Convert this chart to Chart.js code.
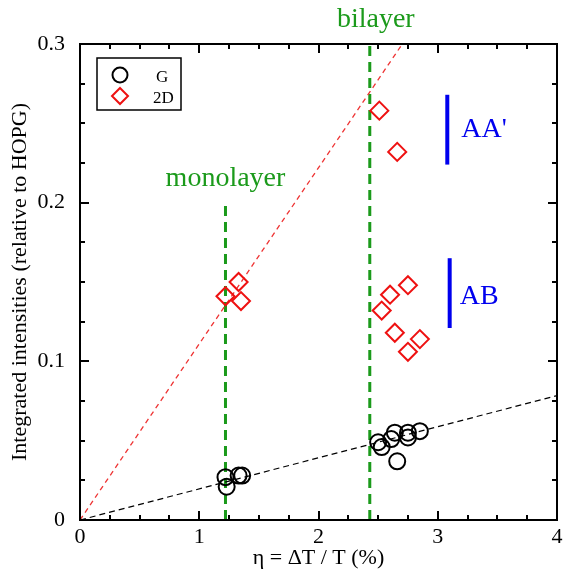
<!DOCTYPE html>
<html>
<head>
<meta charset="utf-8">
<script src="https://cdn.jsdelivr.net/npm/chart.js@4"></script>
<style>
html,body{margin:0;padding:0;background:#fff;}
#wrap{width:570px;height:574px;}
</style>
</head>
<body>
<div id="wrap"><canvas id="c" width="570" height="574"></canvas></div>
<script>
// ---- data ----
const gX = [1.22, 1.23, 1.33, 1.36, 2.50, 2.53, 2.61, 2.64, 2.66, 2.75, 2.75, 2.85];
const gY = [0.027, 0.021, 0.028, 0.028, 0.049, 0.046, 0.051, 0.055, 0.037, 0.055, 0.052, 0.056];
const dX = [1.22, 1.33, 1.35, 2.51, 2.66, 2.75, 2.60, 2.53, 2.64, 2.85, 2.75];
const dY = [0.141, 0.150, 0.138, 0.258, 0.232, 0.148, 0.142, 0.132, 0.118, 0.114, 0.106];
const redFitX = [0, 4];
const redFitY = [0, 0.444];
const blackFitX = [0, 4];
const blackFitY = [0, 0.0784];
const monoX = [1.22, 1.22];
const monoY = [0, 0.2];
const biX = [2.43, 2.43];
const biY = [0, 0.3];
const aaX = [3.08, 3.08];
const aaY = [0.224, 0.268];
const abX = [3.10, 3.10];
const abY = [0.121, 0.165];
const xTicks = [0, 1, 2, 3, 4];
const yTicks = [0, 0.1, 0.2, 0.3];
const xLabel = 'η = ΔT / T (%)';
const yLabel = 'Integrated intensities (relative to HOPG)';
const seriesNames = ['G', '2D'];

const pts = (xs, ys) => xs.map((x, i) => ({x: x, y: ys[i]}));
const GREEN = '#1b9a1b';
const SERIF = '"Liberation Serif", "Times New Roman", serif';

const annot = {
  id: 'annot',
  afterDatasetsDraw(chart) {
    const {ctx, chartArea: a, scales: {x, y}} = chart;
    ctx.save();
    // frame
    ctx.strokeStyle = '#000';
    ctx.lineWidth = 2;
    ctx.strokeRect(a.left, a.top, a.right - a.left, a.bottom - a.top);
    // inward ticks
    ctx.lineWidth = 2;
    ctx.beginPath();
    for (let i = 0; i <= 16; i++) {
      const v = i * 0.25;
      const px = Math.round(x.getPixelForValue(v));
      const len = (i % 4 === 0) ? 9 : 5;
      ctx.moveTo(px, a.bottom); ctx.lineTo(px, a.bottom - len);
      ctx.moveTo(px, a.top); ctx.lineTo(px, a.top + len);
    }
    for (let i = 0; i <= 12; i++) {
      const v = i * 0.025;
      const py = Math.round(y.getPixelForValue(v));
      const len = (i % 4 === 0) ? 9 : 5;
      ctx.moveTo(a.left, py); ctx.lineTo(a.left + len, py);
      ctx.moveTo(a.right, py); ctx.lineTo(a.right - len, py);
    }
    ctx.stroke();
    // text labels
    ctx.textAlign = 'center';
    ctx.textBaseline = 'alphabetic';
    ctx.fillStyle = GREEN;
    ctx.font = '28px ' + SERIF;
    ctx.fillText('monolayer', x.getPixelForValue(1.22), y.getPixelForValue(0.2105));
    ctx.fillText('bilayer', x.getPixelForValue(2.43) + 6, 27);
    ctx.fillStyle = '#0000ee';
    ctx.textAlign = 'left';
    ctx.fillText("AA'", x.getPixelForValue(3.08) + 14, y.getPixelForValue(0.2415));
    ctx.fillText('AB', x.getPixelForValue(3.10) + 10, y.getPixelForValue(0.136));
    // legend
    ctx.strokeStyle = '#000';
    ctx.lineWidth = 1.5;
    ctx.strokeRect(97, 58, 84, 52);
    ctx.lineWidth = 2;
    ctx.beginPath();
    ctx.arc(120, 75, 7.5, 0, Math.PI * 2);
    ctx.stroke();
    ctx.strokeStyle = '#ee1111';
    ctx.beginPath();
    ctx.moveTo(120, 88); ctx.lineTo(128, 96); ctx.lineTo(120, 104); ctx.lineTo(112, 96); ctx.closePath();
    ctx.stroke();
    ctx.fillStyle = '#000';
    ctx.font = '17px ' + SERIF;
    ctx.fillText(seriesNames[0], 156, 82);
    ctx.fillText(seriesNames[1], 153, 103);
    ctx.restore();
  }
};

new Chart(document.getElementById('c'), {
  type: 'scatter',
  data: {
    datasets: [
      {label: 'G', data: pts(gX, gY), pointStyle: 'circle', pointRadius: 8, pointHoverRadius: 8,
        borderColor: '#000', backgroundColor: 'rgba(0,0,0,0)', pointBorderWidth: 2, showLine: false},
      {label: '2D', data: pts(dX, dY), pointStyle: 'rectRot', pointRadius: 9, pointHoverRadius: 9,
        borderColor: '#ee1111', backgroundColor: 'rgba(0,0,0,0)', pointBorderWidth: 2, showLine: false},
      {label: 'redfit', data: pts(redFitX, redFitY), showLine: true, pointRadius: 0, borderColor: '#ee3333',
        borderWidth: 1.3, borderDash: [5, 4]},
      {label: 'blackfit', data: pts(blackFitX, blackFitY), showLine: true, pointRadius: 0, borderColor: '#000',
        borderWidth: 1.2, borderDash: [6, 4]},
      {label: 'mono', data: pts(monoX, monoY), showLine: true, pointRadius: 0, borderColor: GREEN,
        borderWidth: 3, borderDash: [10, 6]},
      {label: 'bi', data: pts(biX, biY), showLine: true, pointRadius: 0, borderColor: GREEN,
        borderWidth: 3, borderDash: [10, 6]},
      {label: 'AA', data: pts(aaX, aaY), showLine: true, pointRadius: 0, borderColor: '#0000ee', borderWidth: 4},
      {label: 'AB', data: pts(abX, abY), showLine: true, pointRadius: 0, borderColor: '#0000ee', borderWidth: 4}
    ]
  },
  options: {
    responsive: false,
    animation: false,
    layout: {padding: {left: 0, top: 44, right: 13, bottom: 0}},
    plugins: {legend: {display: false}, tooltip: {enabled: false}},
    scales: {
      x: {
        type: 'linear', min: 0, max: 4,
        afterFit(s) { s.height = 54; },
        afterBuildTicks(s) { s.ticks = xTicks.map(v => ({value: v})); },
        grid: {display: false, drawTicks: false},
        border: {display: false},
        ticks: {color: '#000', font: {family: SERIF, size: 22}, padding: 4, maxRotation: 0,
          callback: v => String(v)},
        title: {display: true, text: xLabel, color: '#000', font: {family: SERIF, size: 22}, padding: {top: 3, bottom: 3}}
      },
      y: {
        type: 'linear', min: 0, max: 0.3,
        afterFit(s) { s.width = 80; },
        afterBuildTicks(s) { s.ticks = yTicks.map(v => ({value: v})); },
        grid: {display: false, drawTicks: false},
        border: {display: false},
        ticks: {color: '#000', font: {family: SERIF, size: 22}, padding: 15,
          callback: v => (v === 0 ? '0' : String(Math.round(v * 10) / 10))},
        title: {display: true, text: yLabel, color: '#000', font: {family: SERIF, size: 22}, padding: {top: 7, bottom: 7}}
      }
    }
  },
  plugins: [annot]
});
</script>
</body>
</html>
